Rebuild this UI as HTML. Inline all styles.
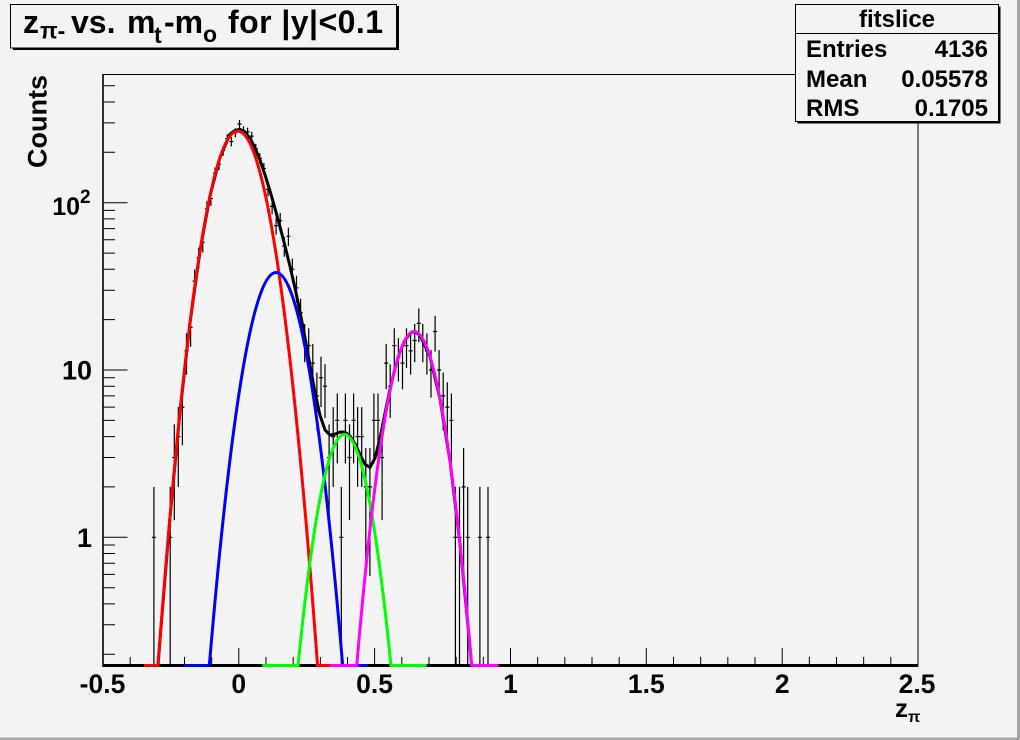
<!DOCTYPE html>
<html>
<head>
<meta charset="utf-8">
<style>
html,body{margin:0;padding:0;background:#f3f3f3;}
svg{display:block;}
text{font-family:"Liberation Sans",Arial,sans-serif;font-weight:bold;fill:#000;}
</style>
</head>
<body>
<svg width="1020" height="740" viewBox="0 0 1020 740" xmlns="http://www.w3.org/2000/svg">
<defs>
<clipPath id="fr"><rect x="103" y="74" width="815" height="594"/></clipPath>
</defs>
<rect x="0" y="0" width="1020" height="740" fill="#f3f3f3"/>
<rect x="1017" y="0" width="3" height="740" fill="#a4a4a4"/>
<rect x="0" y="737.5" width="1020" height="2.5" fill="#a4a4a4"/>

<rect x="103" y="74.5" width="815" height="591.5" fill="none" stroke="#000" stroke-width="1"/>
<line x1="103" y1="74" x2="103" y2="667" stroke="#000" stroke-width="1.6"/>

<path stroke="#000" stroke-width="1" fill="none" d="M103 666V648M238.8 666V648M374.6 666V648M510.5 666V648M646.3 666V648M782.2 666V648M918 666V648M130.17 666V657M157.33 666V657M184.5 666V657M211.67 666V657M266 666V657M293.17 666V657M320.33 666V657M347.5 666V657M401.83 666V657M429 666V657M456.17 666V657M483.33 666V657M537.67 666V657M564.83 666V657M592 666V657M619.17 666V657M673.5 666V657M700.67 666V657M727.83 666V657M755 666V657M809.33 666V657M836.5 666V657M863.67 666V657M890.83 666V657"/>
<path stroke="#000" stroke-width="1" fill="none" d="M103 537.3H127.5M103 370H127.5M103 202.7H127.5M103 654.2H115M103 624.8H115M103 603.9H115M103 587.7H115M103 574.4H115M103 563.2H115M103 553.5H115M103 545H115M103 486.9H115M103 457.5H115M103 436.6H115M103 420.4H115M103 407.1H115M103 395.9H115M103 386.2H115M103 377.7H115M103 319.6H115M103 290.2H115M103 269.3H115M103 253.1H115M103 239.8H115M103 228.6H115M103 218.9H115M103 210.4H115M103 152.3H115M103 122.9H115M103 102H115M103 85.8H115"/>

<g font-size="26.5" text-anchor="middle">
<text x="102.5" y="693">-0.5</text>
<text x="238.8" y="693">0</text>
<text x="374.6" y="693">0.5</text>
<text x="510.5" y="693">1</text>
<text x="646.3" y="693">1.5</text>
<text x="782.2" y="693">2</text>
<text x="917" y="693">2.5</text>
</g>
<text x="92" y="547" font-size="27" text-anchor="end">1</text>
<text x="92" y="379.5" font-size="27" text-anchor="end">10</text>
<text x="80" y="215" font-size="25" text-anchor="end">10</text>
<text x="80" y="203" font-size="19">2</text>

<text x="895" y="717" font-size="26">z</text>
<text x="908" y="722" font-size="16">π</text>
<text transform="translate(46.5,75) rotate(-90)" font-size="27" text-anchor="end">Counts</text>

<g clip-path="url(#fr)">
<path stroke="#000" stroke-width="1.2" fill="none" d="M151.86 537.3h4.08M153.9 486.9V666M168.16 537.3h4.08M170.2 486.9V666M172.26 457.5h4.08M174.3 424.4V520.1M176.26 436.6h4.08M178.3 407.1V486.9M180.36 407.1h4.08M182.4 382.2V445.2M184.46 350.9h4.08M186.5 333.2V374.6M188.56 327.3h4.08M190.6 311.9V346.8M192.56 281.1h4.08M194.6 269.6V294.7M196.66 257.6h4.08M198.7 247.7V269M200.76 242.3h4.08M202.8 233.3V252.5M204.86 208.8h4.08M206.9 201.5V216.8M208.86 198.5h4.08M210.9 191.7V205.9M212.96 173.2h4.08M215 167.5V179.4M217.06 164.2h4.08M219.1 158.8V170M221.16 150.5h4.08M223.2 145.6V155.8M225.16 138.8h4.08M227.2 134.3V143.6M229.26 141.5h4.08M231.3 136.9V146.5M233.36 132.7h4.08M235.4 128.4V137.3M237.46 124.1h4.08M239.5 120V128.5M241.46 130.5h4.08M243.5 126.2V135.1M245.56 131.9h4.08M247.6 127.6V136.5M249.66 136.1h4.08M251.7 131.7V140.9M253.76 148.8h4.08M255.8 143.9V154M257.76 158.4h4.08M259.8 153.2V164M261.86 168.5h4.08M263.9 163V174.5M265.96 189.4h4.08M268 183.1V196.4M270.06 206.4h4.08M272.1 199.3V214.3M274.06 225.6h4.08M276.1 217.5V234.6M278.16 220.7h4.08M280.2 213V229.5M282.26 246.1h4.08M284.3 236.9V256.7M286.36 236.3h4.08M288.4 227.6V246.1M290.36 269.3h4.08M292.4 258.6V281.8M294.46 287.8h4.08M296.5 275.8V302.2M298.56 312.7h4.08M300.6 298.7V330.1M302.66 340.5h4.08M304.7 323.9V362.2M306.66 345.6h4.08M308.7 328.3V368.1M310.76 363.1h4.08M312.8 343.9V389.2M314.86 395.9h4.08M316.9 372.6V430.4M318.96 377.7h4.08M321 356.8V407.1M322.96 386.2h4.08M325 364.2V417.9M327.06 457.5h4.08M329.1 424.4V520.1M331.16 436.6h4.08M333.2 407.1V486.9M335.26 420.4h4.08M337.3 393.5V463.4M339.26 537.3h4.08M341.3 486.9V666M343.36 420.4h4.08M345.4 393.5V463.4M347.46 457.5h4.08M349.5 424.4V520.1M351.56 420.4h4.08M353.6 393.5V463.4M355.56 436.6h4.08M357.6 407.1V486.9M359.66 436.6h4.08M361.7 407.1V486.9M363.76 486.9h4.08M365.8 448.1V576.1M367.86 486.9h4.08M369.9 448.1V576.1M371.86 420.4h4.08M373.9 393.5V463.4M375.96 420.4h4.08M378 393.5V463.4M380.06 457.5h4.08M382.1 424.4V520.1M384.16 363.1h4.08M386.2 343.9V389.2M388.16 386.2h4.08M390.2 364.2V417.9M392.26 345.6h4.08M394.3 328.3V368.1M396.36 356.8h4.08M398.4 338.3V381.5M400.46 363.1h4.08M402.5 343.9V389.2M404.46 345.6h4.08M406.5 328.3V368.1M408.56 350.9h4.08M410.6 333.2V374.6M412.66 340.5h4.08M414.7 323.9V362.2M416.76 323.4h4.08M418.8 308.4V342.3M420.76 340.5h4.08M422.8 323.9V362.2M424.86 350.9h4.08M426.9 333.2V374.6M428.96 370h4.08M431 350V397.6M433.06 331.5h4.08M435.1 315.7V351.6M437.06 370h4.08M439.1 350V397.6M441.16 395.9h4.08M443.2 372.6V430.4M445.26 407.1h4.08M447.3 382.2V445.2M449.36 420.4h4.08M451.4 393.5V463.4M453.36 537.3h4.08M455.4 486.9V666M457.46 537.3h4.08M459.5 486.9V666M461.56 486.9h4.08M463.6 448.1V576.1M465.66 537.3h4.08M467.7 486.9V666M477.86 537.3h4.08M479.9 486.9V666M485.96 537.3h4.08M488 486.9V666"/>

<line x1="103" y1="665.5" x2="918" y2="665.5" stroke="#000" stroke-width="3"/>

<polyline fill="none" stroke="#000" stroke-width="3" stroke-linejoin="round" points="144,665.5 158,665.5 160,639.5 170,517.1 180,411.6 190,322.9 200,251 210,195.9 220,157.3 230,134.1 235,130.4 240,129.3 245,132 250,138.3 255,147.8 260,160.1 265,174.7 270,191 275,208.4 280,226.8 285,246 290,266.3 295,288.1 300,311.9 305,337.8 310,365.3 315,392.3 320,415.3 325,429.9 330,435 335,434.1 340,432 345,432.1 350,436 355,443.9 360,454.5 365,464.3 370,467.4 375,458.2 380,438.2 385,413.4 390,389.2 395,368.3 400,351.7 405,340.1 410,333.3 414.2,331.5 420,334.9 430,356.8 440,398.9 450,461.2 460,543.8 470,646.6 471.65,665.5 498.5,665.5"/>

<path fill="none" stroke="#ff0000" stroke-width="3" d="M144 665.5 H158.03 Q237.8 -403.5 317.57 665.5 H332"/>
<path fill="none" stroke="#0000ff" stroke-width="3" d="M184 665.5 H209.32 Q276 -120.5 342.68 665.5 H368"/>
<path fill="none" stroke="#00ff00" stroke-width="3" d="M262.3 665.5 H298.04 Q344.5 203.5 390.96 665.5 H426.7"/>
<path fill="none" stroke="#ff00ff" stroke-width="3" d="M330 665.5 H356.75 Q414.2 -2.5 471.65 665.5 H498.5"/>
</g>

<rect x="13" y="6" width="386" height="44" fill="#000"/>
<rect x="10.5" y="4.5" width="386" height="43.5" fill="#f3f3f3" stroke="#000" stroke-width="1"/>
<text x="23" y="33" font-size="32">z</text>
<text x="40" y="38.5" font-size="23">π-</text>
<text x="71" y="33" font-size="32">vs.</text>
<text x="127" y="33" font-size="32">m</text>
<text x="154" y="43" font-size="23">t</text>
<text x="164" y="33" font-size="32">-m</text>
<text x="203" y="42" font-size="23">o</text>
<text x="228" y="33" font-size="32" textLength="155" lengthAdjust="spacing">for |y|&lt;0.1</text>

<rect x="797.5" y="6.5" width="203" height="117" fill="#000"/>
<rect x="795.5" y="4.5" width="203" height="117" fill="#f3f3f3" stroke="#000" stroke-width="1"/>
<line x1="795.5" y1="33.5" x2="998.5" y2="33.5" stroke="#000" stroke-width="1"/>
<text x="897" y="27" font-size="24" text-anchor="middle">fitslice</text>
<text x="806" y="57" font-size="24">Entries</text>
<text x="988" y="57" font-size="24" text-anchor="end">4136</text>
<text x="806" y="87" font-size="24">Mean</text>
<text x="988" y="87" font-size="24" text-anchor="end">0.05578</text>
<text x="806" y="116" font-size="24">RMS</text>
<text x="988" y="116" font-size="24" text-anchor="end">0.1705</text>
</svg>
</body>
</html>
